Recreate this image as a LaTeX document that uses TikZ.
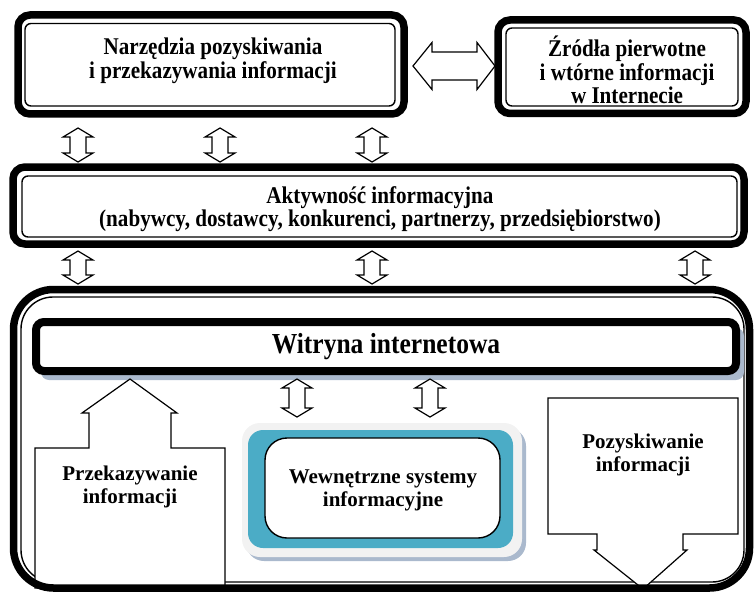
\documentclass[tikz,border=0pt]{standalone}
\usepackage{fontspec}
\setmainfont{Liberation Serif}
\newfontfamily\narrowfont{Liberation Serif}[FakeStretch=0.88]
\usetikzlibrary{calc}
\definecolor{tealc}{RGB}{75,172,198}
\definecolor{shadowc}{RGB}{170,185,205}
\definecolor{lgray}{RGB}{242,242,242}
\newcommand\vdarrow[3]{%
  \draw[blockarr] (#1,#2) -- ({#1+15},{#2+9}) -- ({#1+8},{#2+9}) -- ({#1+8},{#3-9}) -- ({#1+15},{#3-9}) -- (#1,#3)
   -- ({#1-15},{#3-9}) -- ({#1-8},{#3-9}) -- ({#1-8},{#2+9}) -- ({#1-15},{#2+9}) -- cycle;}
\begin{document}
\begin{tikzpicture}[x=1pt,y=-1pt,
  thickline/.style={line width=7.5pt, rounded corners=12pt},
  thinbox/.style={draw, line width=1.4pt, rounded corners=6pt, inner sep=0pt},
  blockarr/.style={draw, line width=1.2pt, fill=white, line join=miter},
  lbl/.style={font=\narrowfont\bfseries\fontsize{24}{23.5}\selectfont, align=center, inner sep=0pt},
  lbltwo/.style={font=\bfseries\fontsize{21}{23}\selectfont, align=center, inner sep=0pt},
  lblbig/.style={font=\narrowfont\bfseries\fontsize{29}{30}\selectfont, align=center, inner sep=0pt},
]
\useasboundingbox (0,0) rectangle (754,591);
% top left box
\draw[thickline] (18,15) rectangle (404,114);
\node[thinbox, minimum width=370pt, minimum height=82.5pt] (box1) at (210,64.75) {};
\node[lbl] (t1) at (213,61) {Narzędzia pozyskiwania\\i przekazywania informacji};
% top right box
\draw[thickline] (498,20) rectangle (746,113.5);
\node[thinbox, minimum width=232pt, minimum height=78pt] (box2) at (622,67) {};
\node[lbl] (t2) at (627,70) {Źródła pierwotne\\i wtórne informacji\\w Internecie};
% horizontal double arrow
\coordinate (hl) at (413,66);
\coordinate (hr) at (495,66);
\draw[blockarr] (hl) -- (432,42.5) -- (432,52) -- (477,52) -- (477,42.5) -- (hr)
  -- (477,89.5) -- (477,80) -- (432,80) -- (432,89.5) -- cycle;
% Aktywnosc
\draw[thickline] (13,167) rectangle (744,244);
\node[thinbox, minimum width=715pt, minimum height=61pt] (akt) at (379.5,206.5) {};
\node[lbl] (t3) at (380,209) {Aktywność informacyjna\\(nabywcy, dostawcy, konkurenci, partnerzy, przedsiębiorstwo)};
% arrows row 1 and 2
\vdarrow{78}{128}{162}
\vdarrow{220}{128}{162}
\vdarrow{372}{128}{162}
\vdarrow{78}{251}{284}
\vdarrow{372}{251}{284}
\vdarrow{695}{251}{284}
% container thin line
\draw[line width=1.4pt, rounded corners=32pt] (21,297) rectangle (744,582);
% Witryna
\fill[shadowc, rounded corners=8pt] (41,328) rectangle (744,380);
\draw[line width=8pt, rounded corners=8pt, fill=white] (36,322) rectangle (736,371);
\node[inner sep=0pt, minimum width=700pt, minimum height=49pt] (wit) at (386,346.5) {};
\node[lblbig] (t4) at (386,347) {Witryna internetowa};
% inner arrows
\vdarrow{297}{379}{417}
\vdarrow{430}{379}{417}
% Wewnetrzne systemy
\fill[shadowc, rounded corners=18pt] (246,428) rectangle (526,561);
\fill[lgray, rounded corners=18pt] (242,423) rectangle (522,557);
\fill[tealc, rounded corners=15pt] (248,430) rectangle (513,548);
\node[thinbox, fill=white, rounded corners=22pt, minimum width=235pt, minimum height=100pt] (wew) at (382.5,488) {};
\node[lbltwo] (t5) at (383,490) {Wewnętrzne systemy\\informacyjne};
% Przekazywanie (up arrow)
\draw[blockarr] (35,588) -- (35,448) -- (89,448) -- (89,413) -- (82,413) -- (130,379) -- (177,413) -- (171,413)
  -- (171,448) -- (225,448) -- (225,588) -- cycle;
\node[lbltwo] (t6) at (130,487) {Przekazywanie\\informacji};
% Pozyskiwanie (down arrow)
\draw[blockarr] (548,398) -- (738,398) -- (738,534) -- (683,534) -- (683,550) -- (687,550) -- (643,589) -- (594,550)
  -- (597,550) -- (597,534) -- (548,534) -- cycle;
\node[lbltwo] (t7) at (643,455) {Pozyskiwanie\\informacji};
% container thick line
\draw[line width=7.5pt, rounded corners=40pt] (13.5,289.5) rectangle (749.5,588);
\end{tikzpicture}
\end{document}
